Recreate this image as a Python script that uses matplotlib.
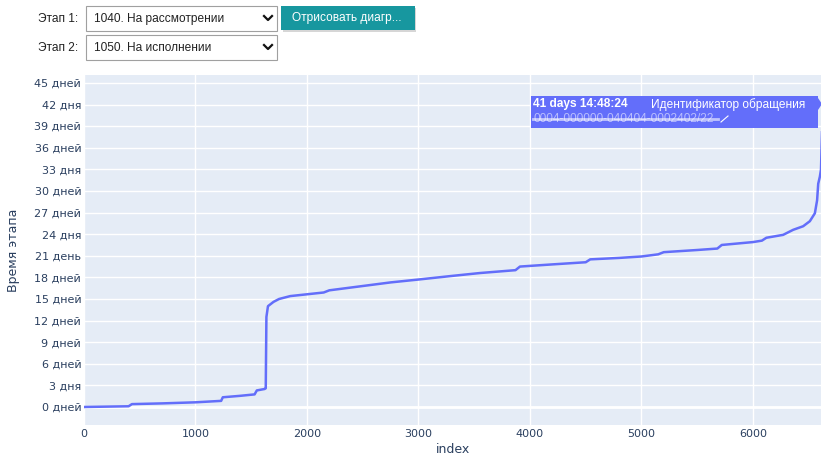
import matplotlib
matplotlib.use("Agg")
import matplotlib.pyplot as plt
from matplotlib.patches import Rectangle, Polygon

# data (index -> stage time in days)
index_vals = [0, 400, 430, 700, 1000, 1230, 1245, 1400, 1530, 1550, 1620, 1630,
              1636, 1650, 1700, 1750, 1850, 2000, 2150, 2200, 2300, 2500, 2750,
              3000, 3300, 3550, 3870, 3910, 4200, 4500, 4540, 4800, 5000, 5150,
              5200, 5500, 5680, 5720, 6000, 6080, 6120, 6270, 6360, 6450, 6510,
              6555, 6575, 6585, 6600, 6610, 6625]
days_vals = [0.0, 0.1, 0.4, 0.5, 0.65, 0.85, 1.35, 1.55, 1.75, 2.3, 2.5, 2.6,
             12.5, 14.0, 14.6, 15.0, 15.4, 15.65, 15.9, 16.2, 16.4, 16.8, 17.3,
             17.7, 18.2, 18.6, 19.0, 19.5, 19.8, 20.1, 20.5, 20.7, 20.9, 21.2,
             21.5, 21.8, 22.0, 22.5, 22.9, 23.1, 23.5, 23.9, 24.6, 25.1, 25.8,
             26.9, 28.7, 31.0, 32.0, 33.0, 41.6]

y_ticks = [0, 3, 6, 9, 12, 15, 18, 21, 24, 27, 30, 33, 36, 39, 42, 45]
y_labels = ["0 дней", "3 дня", "6 дней", "9 дней", "12 дней", "15 дней",
            "18 дней", "21 день", "24 дня", "27 дней", "30 дней", "33 дня",
            "36 дней", "39 дней", "42 дня", "45 дней"]
x_ticks = [0, 1000, 2000, 3000, 4000, 5000, 6000]

stage1 = "1040. На рассмотрении"
stage2 = "1050. На исполнении"
button_text = "Отрисовать диагр..."
hover_time = "41 days 14:48:24"
hover_name = "Идентификатор обращения"
hover_id = "0004-000000-040404-0002402/22"

W, H = 821, 454
fig = plt.figure(figsize=(W / 100, H / 100), dpi=100)
fig.patch.set_facecolor("white")


def fx(px):
    return px / W


def fy(py):
    return 1 - py / H


ax = fig.add_axes([fx(84), fy(425), fx(821) - fx(84), fy(75) - fy(425)])
ax.set_facecolor("#E5ECF6")
ax.plot(index_vals, days_vals, color="#636EFA", lw=1.8, solid_joinstyle="round")
ax.set_xlim(0, 6610)
ax.set_ylim(-2.5, 46.1)
ax.set_yticks(y_ticks)
ax.set_yticklabels(y_labels)
ax.set_xticks(x_ticks)
ax.grid(True, color="white", lw=1)
ax.axhline(0, color="white", lw=2, zorder=1)
ax.set_axisbelow(True)
for s in ax.spines.values():
    s.set_visible(False)
ax.tick_params(length=0, labelsize=8.0, colors="#2a3f5f", pad=2)
ax.tick_params(axis="x", pad=3)
ax.set_ylabel("Время этапа", fontsize=9.0, color="#2a3f5f", labelpad=10)
ax.set_xlabel("index", fontsize=9.0, color="#2a3f5f", labelpad=3)

# widgets at the top
wfont = dict(family="Liberation Sans", fontsize=8.6, color="#222222")
fig.text(fx(78), fy(19), "Этап 1:", ha="right", va="center", **wfont)
fig.text(fx(78), fy(48), "Этап 2:", ha="right", va="center", **wfont)
for top, label in [(6, stage1), (35, stage2)]:
    fig.patches.append(Rectangle((fx(86), fy(top + 25)), fx(277) - fx(86),
                                 fy(top) - fy(top + 25), transform=fig.transFigure,
                                 facecolor="white", edgecolor="#a0a0a0", lw=0.8))
    fig.text(fx(94), fy(top + 13), label, ha="left", va="center", **wfont)
    cx, cy = 268, top + 12
    fig.add_artist(plt.Line2D([fx(cx - 4), fx(cx), fx(cx + 4)],
                              [fy(cy - 2), fy(cy + 2), fy(cy - 2)],
                              transform=fig.transFigure, color="#111111", lw=1.6))

# button with a soft shadow
fig.patches.append(Rectangle((fx(283), fy(32)), fx(416) - fx(283), fy(8) - fy(32),
                             transform=fig.transFigure, facecolor="#bbbbbb",
                             edgecolor="none", alpha=0.6))
fig.patches.append(Rectangle((fx(281), fy(30)), fx(415) - fx(281), fy(6) - fy(30),
                             transform=fig.transFigure, facecolor="#17979F",
                             edgecolor="none"))
fig.text(fx(292), fy(18), button_text, ha="left", va="center",
         family="Liberation Sans", fontsize=8.6, color="white")

# hover label
fig.patches.append(Rectangle((fx(531), fy(128)), fx(818) - fx(531), fy(96) - fy(128),
                             transform=fig.transFigure, facecolor="#636EFA",
                             edgecolor="none"))
fig.patches.append(Polygon([(fx(818), fy(98)), (fx(822), fy(104)), (fx(818), fy(110))],
                           closed=True, transform=fig.transFigure,
                           facecolor="#636EFA", edgecolor="none"))
fig.text(fx(533), fy(104), hover_time, ha="left", va="center",
         family="Liberation Sans", fontsize=8.6, weight="bold", color="white")
fig.text(fx(651), fy(105), hover_name, ha="left", va="center",
         family="Liberation Sans", fontsize=8.6, color="white")
fig.text(fx(533), fy(119), hover_id, ha="left", va="center",
         family="Liberation Sans", fontsize=8.6, color="white", alpha=0.55)
fig.add_artist(plt.Line2D([fx(533), fx(718)], [fy(119), fy(119)],
                          transform=fig.transFigure, color="white", lw=2, alpha=0.6))
fig.add_artist(plt.Line2D([fx(721), fx(728)], [fy(122), fy(116)],
                          transform=fig.transFigure, color="white", lw=0.8))

fig.savefig("out.png", dpi=100)
